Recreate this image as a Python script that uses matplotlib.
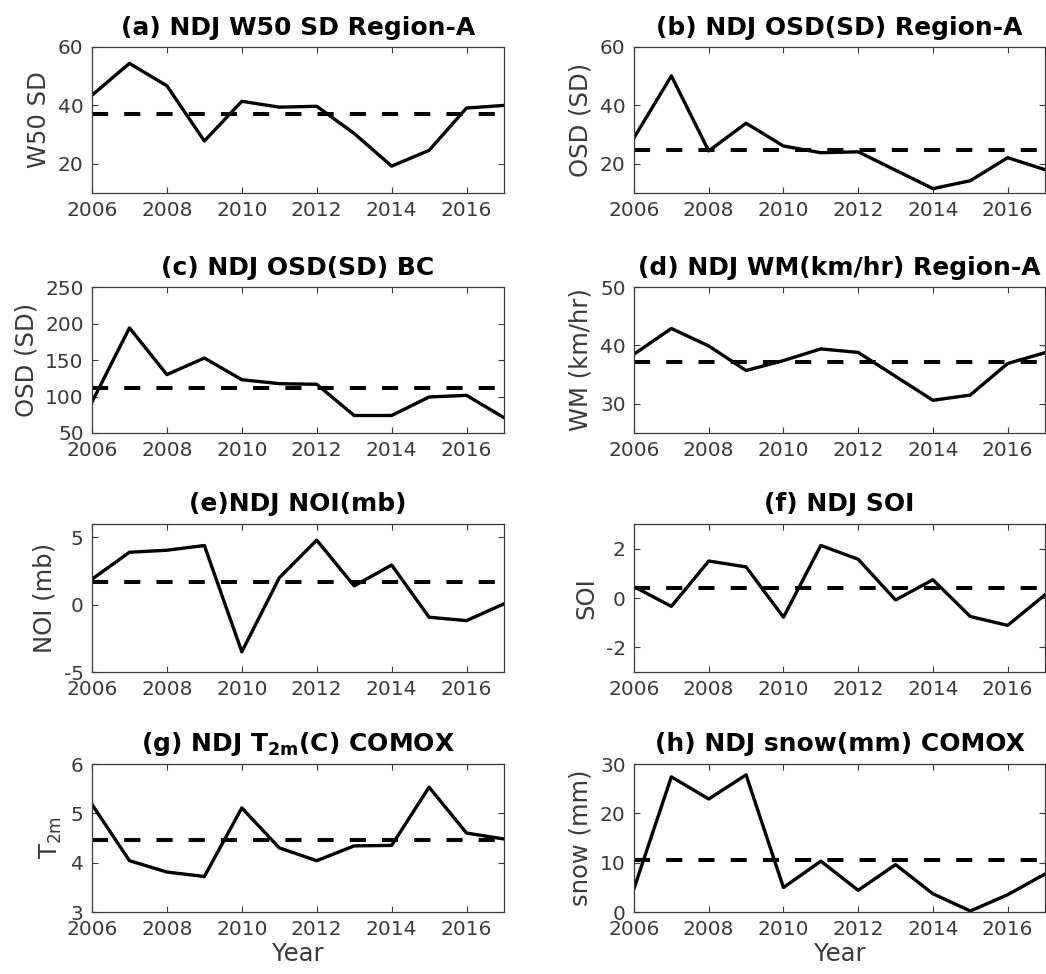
import matplotlib

matplotlib.use("Agg")
import matplotlib.pyplot as plt
import numpy as np

years = np.arange(2006, 2018)

w50_sd = [43.5, 54.4, 46.7, 27.8, 41.4, 39.4, 39.7, 30.4, 19.2, 24.6, 39.1, 40.0]
osd_region_a = [28.9, 50.1, 24.4, 33.9, 26.1, 23.8, 24.1, 17.8, 11.5, 14.2, 22.1, 18.0]
osd_bc = [92.5, 194, 130, 152.7, 123, 117.6, 116.7, 74, 74, 99.3, 101.6, 71]
wm_region_a = [38.5, 42.9, 39.9, 35.7, 37.4, 39.4, 38.8, 34.7, 30.6, 31.5, 36.9, 38.75]
noi = [1.9, 3.9, 4.05, 4.4, -3.5, 2.0, 4.8, 1.4, 2.95, -0.93, -1.18, 0.07]
soi = [0.46, -0.34, 1.5, 1.26, -0.78, 2.13, 1.57, -0.08, 0.74, -0.75, -1.11, 0.13]
t2m_comox = [5.18, 4.04, 3.81, 3.72, 5.11, 4.3, 4.04, 4.34, 4.35, 5.53, 4.6, 4.48]
snow_comox = [4.75, 27.4, 22.9, 27.8, 4.96, 10.3, 4.4, 9.6, 3.7, 0.2, 3.5, 7.7]

titles = [
    "(a) NDJ W50 SD Region-A",
    "(b) NDJ OSD(SD) Region-A",
    "(c) NDJ OSD(SD) BC",
    "(d) NDJ WM(km/hr) Region-A",
    "(e)NDJ NOI(mb)",
    "(f) NDJ SOI",
    r"(g) NDJ T$_{\mathbf{2m}}$(C) COMOX",
    "(h) NDJ snow(mm) COMOX",
]
ylabels = ["W50 SD", "OSD (SD)", "OSD (SD)", "WM (km/hr)", "NOI (mb)", "SOI",
           r"T$_{2m}$", "snow (mm)"]
ylims = [(10, 60), (10, 60), (50, 250), (25, 50), (-5, 6), (-3, 3), (3, 6), (0, 30)]
yticks = [[20, 40, 60], [20, 40, 60], [50, 100, 150, 200, 250], [30, 40, 50],
          [-5, 0, 5], [-2, 0, 2], [3, 4, 5, 6], [0, 10, 20, 30]]
series = [w50_sd, osd_region_a, osd_bc, wm_region_a, noi, soi, t2m_comox, snow_comox]

plt.rcParams["font.family"] = "DejaVu Sans"
plt.rcParams["mathtext.default"] = "regular"
plt.rcParams["axes.unicode_minus"] = False

W, H = 1046, 974
fig = plt.figure(figsize=(W / 100, H / 100), dpi=100)

# panel boxes in pixels
col_left = [92, 634]
col_width = [412, 411]
row_top = [47, 287, 524, 764]
row_bottom = [193, 433, 672, 912]

grey = "#3a3a3a"
for i, vals in enumerate(series):
    r, c = divmod(i, 2)
    rect = [col_left[c] / W, 1 - row_bottom[r] / H,
            col_width[c] / W, (row_bottom[r] - row_top[r]) / H]
    ax = fig.add_axes(rect)
    vals = np.array(vals, dtype=float)
    # dashed line = mean over the period
    ax.plot(years, np.full(years.shape, vals.mean()), color="black", lw=2.9,
            linestyle=(0, (4, 4)))
    ax.plot(years, vals, color="black", lw=2.4)
    ax.set_xlim(2006, 2017)
    ax.set_ylim(*ylims[i])
    ax.set_xticks(np.arange(2006, 2017, 2))
    ax.set_yticks(yticks[i])
    ax.tick_params(direction="in", top=True, right=True, length=4, width=0.8,
                   colors=grey, labelsize=14.5, pad=6)
    for s in ax.spines.values():
        s.set_color(grey)
        s.set_linewidth(0.9)
    ax.set_ylabel(ylabels[i], fontsize=17.5, color=grey, labelpad=5)
    ax.set_title(titles[i], fontsize=18, fontweight="bold", pad=9)
    if r == 3:
        ax.set_xlabel("Year", fontsize=17.5, color=grey, labelpad=2)

fig.savefig("out.png", dpi=100, facecolor="white")
